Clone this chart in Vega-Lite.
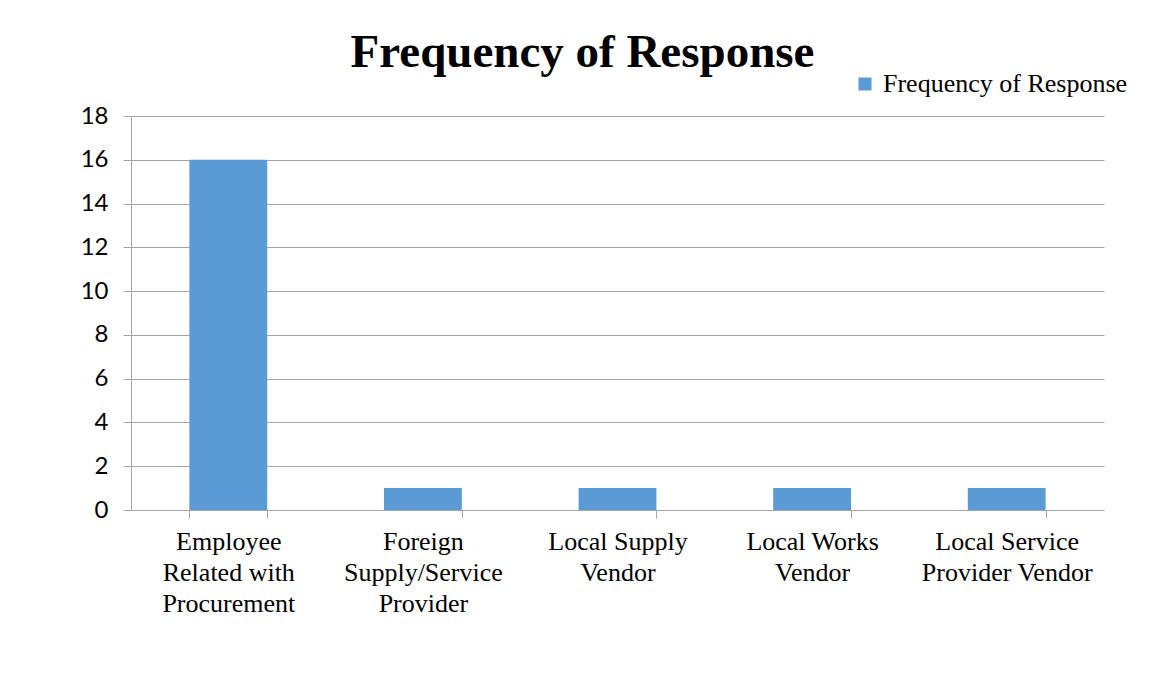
{
  "$schema": "https://vega.github.io/schema/vega-lite/v6.json",
  "width": 973,
  "height": 394,
  "autosize": {"type": "none"},
  "padding": {"left": 131, "top": 116, "right": 48, "bottom": 165},
  "background": "white",
  "title": {
    "text": "Frequency of Response",
    "font": "Liberation Serif",
    "fontSize": 47,
    "fontWeight": "bold",
    "color": "black",
    "anchor": "middle",
    "frame": "group",
    "dx": -35,
    "dy": 53,
    "baseline": "alphabetic",
    "offset": 10
  },
  "data": {
    "values": [
      {"category": "Employee|Related with|Procurement", "series": "Frequency of Response", "value": 16},
      {"category": "Foreign|Supply/Service|Provider", "series": "Frequency of Response", "value": 1},
      {"category": "Local Supply|Vendor", "series": "Frequency of Response", "value": 1},
      {"category": "Local Works|Vendor", "series": "Frequency of Response", "value": 1},
      {"category": "Local Service|Provider Vendor", "series": "Frequency of Response", "value": 1}
    ]
  },
  "mark": {"type": "bar", "color": "#5b9bd5"},
  "encoding": {
    "x": {
      "field": "category",
      "type": "nominal",
      "sort": null,
      "scale": {"paddingInner": 0.6, "paddingOuter": 0.3},
      "axis": {
        "title": null,
        "labelAngle": 0,
        "labelExpr": "split(datum.label, '|')",
        "labelFont": "Liberation Serif",
        "labelFontSize": 26,
        "labelColor": "black",
        "labelLineHeight": 31,
        "labelPadding": 10,
        "labelBaseline": "top",
        "tickBand": "extent",
        "tickSize": 8,
        "tickColor": "#a6a6a6",
        "domainColor": "#a6a6a6",
        "labelLimit": 300
      }
    },
    "y": {
      "field": "value",
      "type": "quantitative",
      "scale": {"domain": [0, 18]},
      "axis": {
        "title": null,
        "values": [0, 2, 4, 6, 8, 10, 12, 14, 16, 18],
        "labelFont": "Lato",
        "labelFontSize": 24,
        "labelColor": "black",
        "labelPadding": 15,
        "tickSize": 8,
        "tickColor": "#a6a6a6",
        "domainColor": "#a6a6a6",
        "gridColor": "#a6a6a6",
        "grid": true
      }
    },
    "color": {
      "field": "series",
      "type": "nominal",
      "scale": {"range": ["#5b9bd5"]},
      "legend": {
        "title": null,
        "orient": "none",
        "legendX": 721,
        "legendY": -45,
        "padding": 0,
        "symbolType": "square",
        "symbolSize": 169,
        "symbolStrokeWidth": 0,
        "labelFont": "Liberation Serif",
        "labelFontSize": 26,
        "labelColor": "black",
        "labelOffset": 5,
        "labelLimit": 400
      }
    }
  },
  "config": {"view": {"stroke": null}}
}
